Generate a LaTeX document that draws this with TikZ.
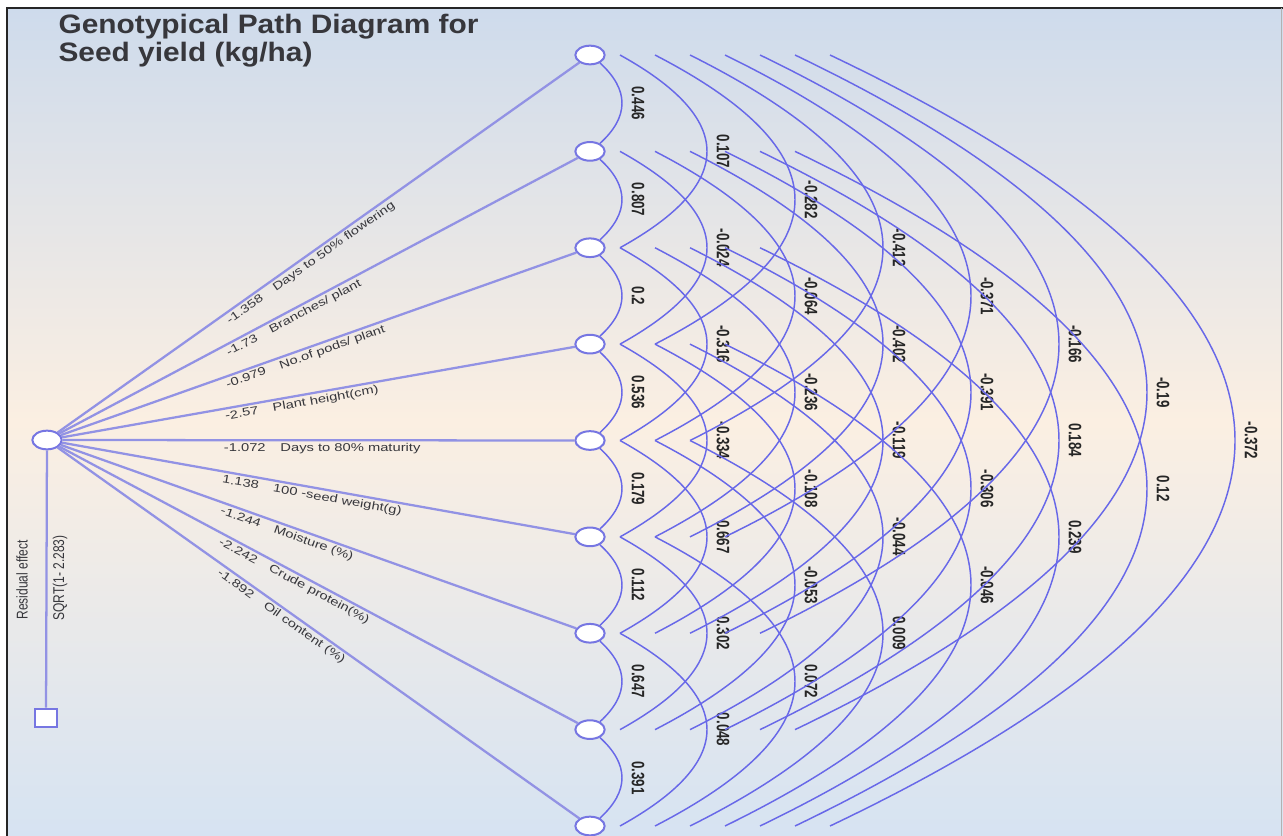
\documentclass[tikz,border=0pt]{standalone}
\usepackage{fontspec}
\setmainfont{Liberation Sans}
\usetikzlibrary{calc,shapes.geometric}

\definecolor{arcblue}{RGB}{104,104,232}
\definecolor{leadblue}{RGB}{146,146,228}
\definecolor{nodeblue}{RGB}{118,118,226}
\definecolor{inkgray}{RGB}{55,55,60}
\definecolor{skytop}{RGB}{206,219,236}
\definecolor{cream}{RGB}{251,239,226}
\definecolor{skybot}{RGB}{214,227,242}

\tikzset{every picture/.style={line width=0.75pt}}
\tikzset{
  trait/.style={ellipse, draw=nodeblue, fill=white, line width=1.5pt, minimum width=22pt, minimum height=14pt, inner sep=0pt},
  resbox/.style={rectangle, draw=nodeblue, fill=white, line width=1.5pt, minimum width=16pt, minimum height=14pt, inner sep=0pt},
  leadline/.style={draw=leadblue, line width=1.7pt},
  corrarc/.style={draw=arcblue, line width=1.1pt},
  corr/.style={rotate=-90, yscale=1.35, font=\bfseries\fontsize{10}{10}\selectfont, text=black!85, inner sep=1pt},
  pathlab/.style={anchor=north west, font=\fontsize{8.5}{8.5}\selectfont, text=inkgray, inner sep=2pt},
  reslab/.style={rotate=90, yscale=1.3, font=\fontsize{9}{9}\selectfont, text=inkgray, inner sep=1pt}
}

\begin{document}
\begin{tikzpicture}[x=0.75pt,y=0.75pt,yscale=-1,xscale=1]
\useasboundingbox (0,0) rectangle (1283,836);

% Background
\fill[white] (0,0) rectangle (1283,836);
\shade[top color=skytop, bottom color=skybot, middle color=cream] (7,8) rectangle (1283,836);
\draw[black!85, line width=1.2pt] (7,836) -- (7,8) -- (1283,8);
\draw[black!30] (1281,8) -- (1281,836);

% Text Node
\node[anchor=north west, inner sep=0pt, align=left, xscale=1.12, font=\bfseries\fontsize{20}{20.5}\selectfont, text=inkgray] (title) at (58,14) {Genotypical Path Diagram for\\Seed yield (kg/ha)};

% Trait nodes
\foreach \k in {1,...,9}
  \node[trait] (t\k) at (590,{55+96.375*(\k-1)}) {};

% Residual
\node[trait] (res) at (47,440) {};
\node[resbox] (box) at (46,718) {};
\draw[leadline] (res) -- (box);
\node[reslab] (reslabel) at (22,580) {Residual effect};
\node[reslab] (reslval) at (60,578) {SQRT(1- 2.283)};

% Direct effects
\foreach \k/\v/\t in {1/-1.358/Days to 50\% flowering, 2/-1.73/{Branches/ plant},
    3/-0.979/{No.of pods/ plant}, 4/-2.57/Plant height(cm), 5/-1.072/Days to 80\% maturity,
    6/1.138/100 -seed weight(g), 7/-1.244/Moisture (\%), 8/-2.242/Crude protein(\%),
    9/-1.892/Oil content (\%)}{
  \pgfmathsetmacro{\ang}{atan2(440-(55+96.375*(\k-1)),543)}
  \draw[leadline] (res) -- (t\k);
  \node[pathlab, rotate=\ang] (d\k) at ($(res)!0.32!(t\k)$) {\scalebox{1.3}[1]{\v\quad \t}};
}

% Correlations
\foreach \i/\j/\v in {1/2/0.446, 2/3/0.807, 3/4/0.2, 4/5/0.536, 5/6/0.179, 6/7/0.112, 7/8/0.647, 8/9/0.391,
    1/3/0.107, 2/4/-0.024, 3/5/-0.316, 4/6/-0.334, 5/7/0.667, 6/8/0.302, 7/9/0.048,
    1/4/-0.282, 2/5/-0.064, 3/6/-0.236, 4/7/-0.108, 5/8/-0.053, 6/9/0.072,
    1/5/-0.412, 2/6/-0.402, 3/7/-0.119, 4/8/-0.044, 5/9/0.009,
    1/6/-0.371, 2/7/-0.391, 3/8/-0.306, 4/9/-0.046,
    1/7/-0.166, 2/8/0.184, 3/9/0.239,
    1/8/-0.19, 2/9/0.12,
    1/9/-0.372}{
  \pgfmathtruncatemacro{\d}{\j-\i}
  \ifnum\d=1
    \def\xs{10}\def\ys{8}\def\ap{32}
  \else
    \pgfmathsetmacro{\xs}{30+35*(\d-2)}\def\ys{0}
    \pgfmathsetmacro{\ap}{117+88*(\d-2)}
  \fi
  \pgfmathsetmacro{\cx}{\xs+4*(\ap-\xs)/3}
  \pgfmathsetmacro{\cy}{\ys+2*(\d*48.1875-\ys)/3}
  \pgfmathsetmacro{\lx}{\ap+16}
  \draw[corrarc] ($(t\i)+(\xs,\ys)$) .. controls ($(t\i)+(\cx,\cy)$) and ($(t\j)+(\cx,-\cy)$) .. ($(t\j)+(\xs,-\ys)$);
  \node[corr] (r\i\j) at ($(t\i)!0.5!(t\j)+(\lx,0)$) {\v};
}

\end{tikzpicture}
\end{document}
